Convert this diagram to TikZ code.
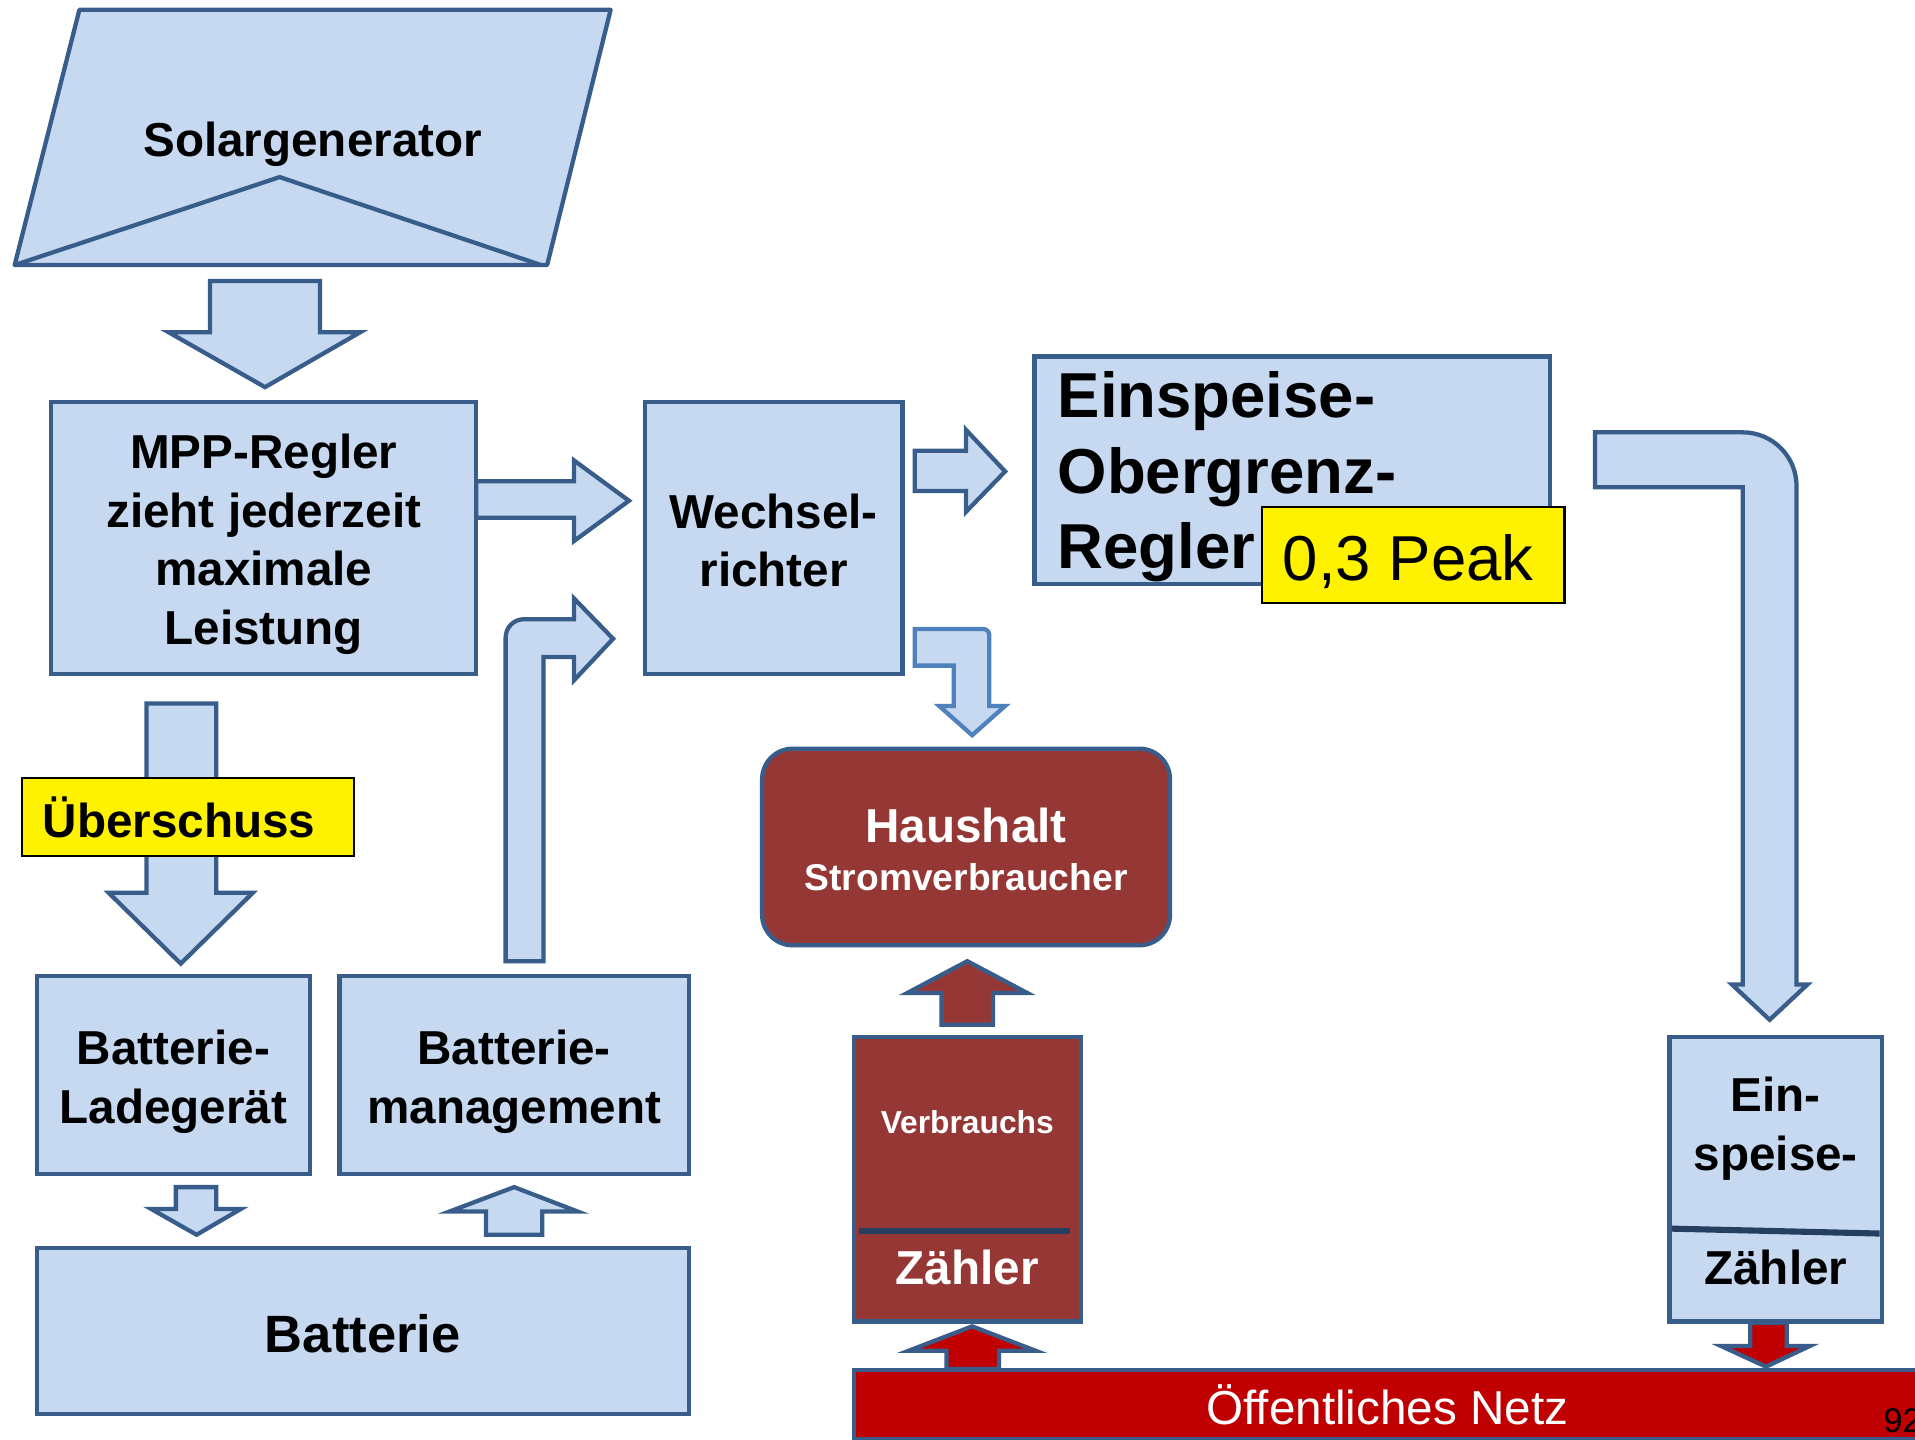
\documentclass[tikz,border=0pt]{standalone}
\usepackage{fontspec}
\setmainfont{Liberation Sans}
\definecolor{boxblue}{HTML}{C6D9F1}
\definecolor{lineblue}{HTML}{385D8A}
\definecolor{paleline}{HTML}{4F81BD}
\definecolor{brickred}{HTML}{953735}
\definecolor{gridred}{HTML}{C00000}
\definecolor{navy}{HTML}{243F60}
\begin{document}
\begin{tikzpicture}[x=1pt,y=-1pt,
  caption/.style={inner sep=0pt,align=center,font=\fontsize{39}{48}\selectfont\bfseries},
  box/.style={caption,draw=lineblue,fill=boxblue,line width=3.5pt},
  blockarrow/.style={draw=lineblue,fill=boxblue,line width=3.5pt},
  note/.style={draw=black,fill=yellow,line width=1.8pt,inner sep=0pt}
]
\useasboundingbox (0,0) rectangle (1568,1179);

% solar generator
\draw[blockarrow,line join=round] (65,8) -- (500,8) -- (448,217) -- (12,217) -- cycle;
\draw[lineblue,line width=3.5pt,line join=round] (12,217) -- (229,145) -- (443,217);
\node[caption,text depth=0pt] (solar) at (256,114) {Solargenerator};

% blocks
\node[box,minimum width=348,minimum height=223,
  label={[caption,yshift=-5pt]center:{MPP-Regler\\zieht jederzeit\\maximale\\Leistung}}] (mpp) at (216,440.5) {};
\node[box,minimum width=211,minimum height=223,
  label={[caption,yshift=-2pt]center:{Wechsel-\\richter}}] (wr) at (633.5,440.5) {};
\node[box,minimum width=422,minimum height=186,
  label={[caption,align=left,text width=384pt,font=\fontsize{52}{62}\selectfont\bfseries,yshift=-5.5pt]center:{Einspeise-\\Obergrenz-\\Regler}}] (einsp) at (1058,385) {};
\node[note,minimum width=248,minimum height=79,
  label={[inner sep=0pt,font=\fontsize{52}{62}\selectfont,xshift=-4pt,yshift=-5pt]center:0,3 Peak}] (peak) at (1157,454.5) {};
\node[box,fill=brickred,rounded corners=25pt,minimum width=334,minimum height=161] (haus) at (791,693.5) {};
\node[caption,text=white] (hausname) at (791,676) {Haushalt};
\node[caption,text=white,font=\fontsize{30.5}{36}\selectfont\bfseries] (verbraucher) at (791,718) {Stromverbraucher};
\node[box,minimum width=224,minimum height=162,
  label={[caption,yshift=-5.5pt]center:{Batterie-\\Ladeger\"at}}] (lader) at (142,880) {};
\node[box,minimum width=286,minimum height=162,
  label={[caption,yshift=-5.5pt]center:{Batterie-\\management}}] (bms) at (421,880) {};
\node[box,minimum width=534,minimum height=136,
  label={[caption,font=\fontsize{43}{50}\selectfont\bfseries,yshift=-2pt]center:Batterie}] (batt) at (297,1090) {};

% meters
\node[box,fill=brickred,minimum width=186,minimum height=233] (vz) at (792,965.5) {};
\node[caption,text=white,font=\fontsize{26}{30}\selectfont\bfseries] (vzname) at (792,919) {Verbrauchs};
\node[caption,text=white] (vzunit) at (792,1038) {Z\"ahler};
\draw[navy,line width=5pt] (703,1008) -- (876,1008);
\node[box,minimum width=174,minimum height=233] (ez) at (1454,965.5) {};
\node[caption] (ezname) at (1454,924) {Ein-\\speise-};
\node[caption] (ezunit) at (1454,1038) {Z\"ahler};
\draw[navy,line width=5pt] (1369,1006) -- (1539,1010);

% grid
\node[draw=lineblue,fill=gridred,line width=3.5pt,minimum width=874,minimum height=56,inner sep=0pt,
  text=white,font=\fontsize{39}{48}\selectfont] (netz) at (1136,1150) {\"Offentliches Netz};
\node[anchor=west,inner sep=0pt,font=\fontsize{28}{32}\selectfont] (seite) at (1542,1163) {92};

% flow arrows
\draw[blockarrow] (172,230) -- (262,230) -- (262,272) -- (295,272) -- (217,317) -- (138,272) -- (172,272) -- cycle;
\draw[blockarrow] (390,394) -- (470,394) -- (470,377) -- (515,410) -- (470,443) -- (470,424) -- (390,424) -- cycle;
\draw[blockarrow] (749,369) -- (791,369) -- (791,352) -- (823,386) -- (791,419) -- (791,402) -- (749,402) -- cycle;
\draw[blockarrow] (1306,354) -- (1427,354) .. controls (1451.3,354) and (1471,373.7) .. (1471,398)
  -- (1471,806) -- (1480,806) -- (1449,835) -- (1418,806) -- (1427,806) -- (1427,399) -- (1306,399) -- cycle;
\draw[blockarrow,draw=paleline] (749,515) -- (805,515) .. controls (807.8,515) and (810,517.2) .. (810,520)
  -- (810,578) -- (823,578) -- (796,602) -- (769,578) -- (781,578) -- (781,545) -- (749,545) -- cycle;
\draw[blockarrow] (414,787) -- (414,522) .. controls (414,513.7) and (420.7,507) .. (429,507)
  -- (470,507) -- (470,490) -- (502,523) -- (470,557) -- (470,538) -- (445,538) -- (445,787) -- cycle;
\draw[blockarrow] (120,576) -- (177,576) -- (177,731) -- (207,731) -- (148,789) -- (89,731) -- (120,731) -- cycle;
\draw[blockarrow] (144,972) -- (177,972) -- (177,990) -- (197,990) -- (161,1011) -- (124,990) -- (144,990) -- cycle;
\draw[blockarrow] (398,1011) -- (398,992) -- (368,992) -- (421,972) -- (473,992) -- (444,992) -- (444,1011) -- cycle;
\draw[blockarrow,fill=brickred] (771,839) -- (771,813) -- (743,813) -- (792,787) -- (841,813) -- (813,813) -- (813,839) -- cycle;
\draw[blockarrow,fill=gridred] (775,1121) -- (775,1106) -- (744,1106) -- (796,1086) -- (848,1106) -- (818,1106) -- (818,1121) -- cycle;
\draw[blockarrow,fill=gridred] (1433,1083) -- (1463,1083) -- (1463,1102) -- (1482,1102) -- (1446,1119) -- (1409,1102) -- (1433,1102) -- cycle;

\node[note,caption,align=left,inner xsep=17pt,text width=238pt,minimum height=64] (ueber) at (154,669) {\"Uberschuss};
\end{tikzpicture}
\end{document}
